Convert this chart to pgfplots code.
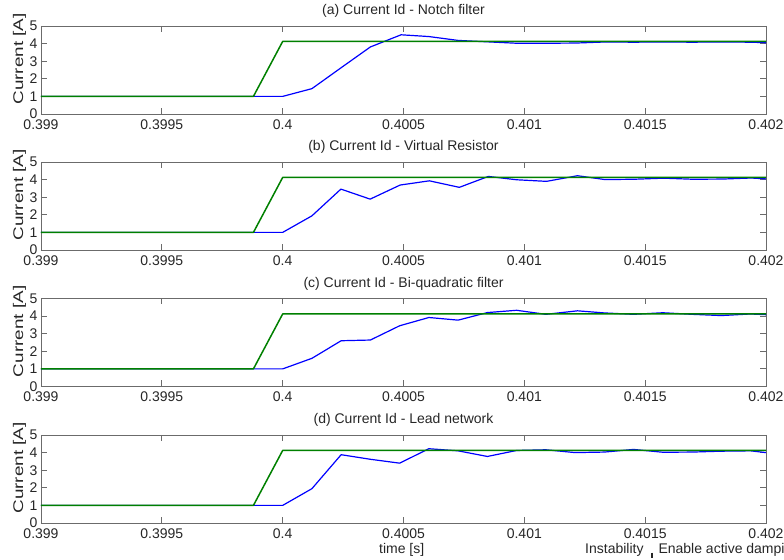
\documentclass[border=0pt]{standalone}
\usepackage{fontspec}
\setmainfont{Liberation Sans}
\usepackage{pgfplots}
\pgfplotsset{compat=1.18}
\usepackage{pgfplotstable}

\definecolor{mblue}{rgb}{0,0,1}
\definecolor{mgreen}{rgb}{0,0.5,0}
\definecolor{frame}{rgb}{0.42,0.42,0.42}
\newcommand\fs{\fontsize{14bp}{16bp}\selectfont}

\pgfplotstableread{
t ref
0.399 1
0.399879 1
0.4 4.12
0.402 4.12
}\refdata

\pgfplotstableread{
t id
0.399 1
0.4 1
0.400121 1.44
0.400242 2.63
0.400363 3.81
0.400490 4.50
0.400605 4.40
0.400726 4.18
0.400847 4.10
0.400968 4.02
0.401089 4.02
0.401210 4.03
0.401331 4.09
0.401452 4.08
0.401573 4.09
0.401694 4.08
0.401815 4.09
0.401936 4.08
0.402 4.05
}\dataa

\pgfplotstableread{
t id
0.399 1
0.4 1
0.400121 1.94
0.400241 3.46
0.400362 2.89
0.400486 3.69
0.400607 3.93
0.400731 3.56
0.400851 4.18
0.400968 3.99
0.401092 3.90
0.401220 4.22
0.401334 4.00
0.401455 4.02
0.401576 4.08
0.401697 4.02
0.401818 4.03
0.401939 4.09
0.402 4.04
}\datab

\pgfplotstableread{
t id
0.399 1
0.4 1
0.400121 1.60
0.400242 2.60
0.400363 2.64
0.400484 3.45
0.400605 3.92
0.400726 3.77
0.400847 4.20
0.400968 4.33
0.401089 4.10
0.401220 4.30
0.401331 4.18
0.401452 4.10
0.401573 4.19
0.401694 4.10
0.401815 4.03
0.401936 4.12
0.402 4.08
}\datac

\pgfplotstableread{
t id
0.399 1
0.4 1
0.400121 1.95
0.400242 3.88
0.400363 3.62
0.400484 3.40
0.400605 4.22
0.400726 4.10
0.400847 3.78
0.400968 4.12
0.401089 4.16
0.401210 4.00
0.401331 4.03
0.401452 4.18
0.401573 4.02
0.401694 4.03
0.401815 4.08
0.401936 4.10
0.402 4.00
}\datad

\pgfplotsset{
  panel/.style={
    scale only axis, width=725bp, height=88bp, anchor=south west,
    xmin=0.399, xmax=0.402, ymin=0, ymax=5,
    xtick={0.399,0.3995,0.4,0.4005,0.401,0.4015,0.402},
    xticklabels={0.399,0.3995,0.4,0.4005,0.401,0.4015,0.402},
    ytick={0,1,2,3,4,5},
    /pgf/number format/assume math mode=true,
    tick align=inside, major tick length=6bp,
    axis line style={draw=frame, line width=0.8bp},
    every tick/.style={draw=frame, line width=0.8bp},
    tick label style={font=\fs, text=black!85},
    xticklabel style={yshift=-2bp},
    every axis title/.style={at={(axis description cs:0.5,1)}, anchor=base, yshift=11bp, font=\fs, text=black!85},
    ylabel={\scalebox{1.35}[1]{Current [A]}},
    every axis y label/.style={at={(axis description cs:-0.0297,0.626)}, anchor=center, rotate=90, font=\fs, text=black!85},
    clip=false,
  },
  bl/.style={draw=mblue, line width=1.2bp, line join=round},
  gr/.style={draw=mgreen, line width=1.5bp, line join=round},
}

\begin{document}
\begin{tikzpicture}
\useasboundingbox (0,0) rectangle (784bp,560bp);

\begin{axis}[panel, at={(41bp,446bp)}, title={(a) Current Id - Notch filter}]
\addplot[bl] table[x=t,y=id] {\dataa};
\addplot[gr] table[x=t,y=ref] {\refdata};
\end{axis}

\begin{axis}[panel, at={(41bp,310bp)}, title={(b) Current Id - Virtual Resistor}]
\addplot[bl] table[x=t,y=id] {\datab};
\addplot[gr] table[x=t,y=ref] {\refdata};
\end{axis}

\begin{axis}[panel, at={(41bp,173.5bp)}, title={(c) Current Id - Bi-quadratic filter}]
\addplot[bl] table[x=t,y=id] {\datac};
\addplot[gr] table[x=t,y=ref] {\refdata};
\end{axis}

\begin{axis}[panel, at={(41bp,37bp)}, title={(d) Current Id - Lead network}]
\addplot[bl] table[x=t,y=id] {\datad};
\addplot[gr] table[x=t,y=ref] {\refdata};
\end{axis}

\node[anchor=base, inner sep=0pt, font=\fs, text=black!85] at (401.7bp,7bp) {time [s]};
\node[anchor=base west, inner sep=0pt, font=\fs, text=black!85] at (585bp,7bp) {Instability};
\draw[black!85, line width=1.6bp] (652bp,7.3bp) -- (652bp,1.8bp);
\node[anchor=base west, inner sep=0pt, font=\fs, text=black!85] at (658.3bp,7bp) {Enable active damping};
\end{tikzpicture}
\end{document}
